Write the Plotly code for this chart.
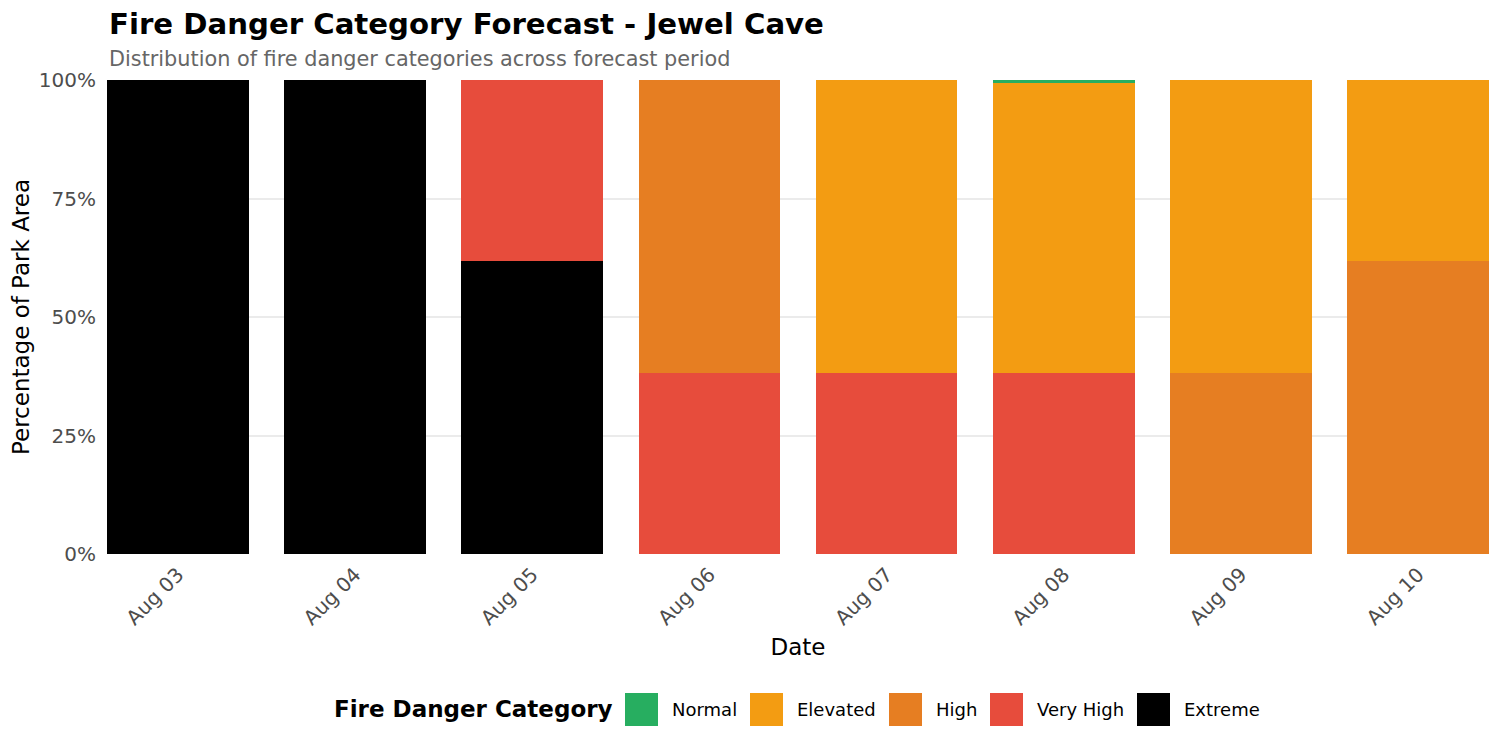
import plotly.graph_objects as go

# forecast dates and danger classes
dates = ["Aug 03", "Aug 04", "Aug 05", "Aug 06", "Aug 07", "Aug 08", "Aug 09", "Aug 10"]
categories = ["Normal", "Elevated", "High", "Very High", "Extreme"]

# percent of park area in each class, per day
normal = [0, 0, 0, 0, 0, 0.6, 0, 0]
elevated = [0, 0, 0, 0, 61.8, 61.2, 61.8, 38.2]
high = [0, 0, 0, 61.8, 0, 0, 38.2, 61.8]
very_high = [0, 0, 38.2, 38.2, 38.2, 38.2, 0, 0]
extreme = [100, 100, 61.8, 0, 0, 0, 0, 0]

y_ticks = [0, 25, 50, 75, 100]
y_labels = ["0%", "25%", "50%", "75%", "100%"]

colors = {
    "Normal": "#27AE60",
    "Elevated": "#F39C12",
    "High": "#E67E22",
    "Very High": "#E74C3C",
    "Extreme": "#000000",
}
values = {
    "Normal": normal,
    "Elevated": elevated,
    "High": high,
    "Very High": very_high,
    "Extreme": extreme,
}

FONT = "DejaVu Sans"
W, H = 1500, 750
OFF = 8  # page body margin shifts the figure
# plot panel edges as seen on the page
P_LEFT, P_RIGHT, P_TOP, P_BOTTOM = 107, 1489, 80, 554
L, R = P_LEFT - OFF, W - (P_RIGHT - OFF)
T, B = P_TOP - OFF, H - (P_BOTTOM - OFF)
pw, ph = P_RIGHT - P_LEFT, P_BOTTOM - P_TOP


def px(x):
    return (x - P_LEFT) / pw


def py(y):
    return (P_BOTTOM - y) / ph


fig = go.Figure()
# ggplot stacks the last level at the bottom
for cat in reversed(categories):
    fig.add_trace(go.Bar(
        x=dates, y=values[cat], name=cat,
        marker=dict(color=colors[cat], line=dict(width=0)),
        showlegend=False,
    ))

fig.update_layout(
    width=W, height=H,
    margin=dict(l=L, r=R, t=T, b=B, autoexpand=False),
    barmode="stack", bargap=0.2,
    plot_bgcolor="white", paper_bgcolor="white",
    font=dict(family=FONT, color="#000000"),
    xaxis=dict(
        type="category", range=[-0.4, 7.4], automargin=False,
        tickangle=-45, tickfont=dict(size=20, color="#4d4d4d"),
        showgrid=True, gridcolor="#ebebeb", zeroline=False, ticks="",
        ticklabelstandoff=4,
        title=dict(text="Date", font=dict(size=23), standoff=10),
    ),
    yaxis=dict(
        range=[0, 100], tickvals=y_ticks, ticktext=y_labels, automargin=False,
        tickfont=dict(size=20, color="#4d4d4d"),
        showgrid=True, gridcolor="#ebebeb", gridwidth=1.5, zeroline=False, ticks="",
        ticklabelstandoff=10,
        title=dict(text="Percentage of Park Area", font=dict(size=23), standoff=4),
    ),
)

ann = [
    dict(text="<b>Fire Danger Category Forecast - Jewel Cave</b>", x=0, y=py(24),
         xanchor="left", yanchor="middle", font=dict(size=29.2, color="#000000")),
    dict(text="Distribution of fire danger categories across forecast period", x=0, y=py(59),
         xanchor="left", yanchor="middle", font=dict(size=20.8, color="#666666")),
    dict(text="<b>Fire Danger Category</b>", x=px(615), y=py(709),
         xanchor="right", yanchor="middle", font=dict(size=23, color="#000000")),
]

# hand-drawn legend, ggplot style big keys
key_left = [625, 750, 889, 990, 1137]
shapes = []
for cat, kx in zip(categories, key_left):
    shapes.append(dict(type="rect", xref="paper", yref="paper",
                       x0=px(kx), x1=px(kx + 33), y0=py(726), y1=py(693),
                       fillcolor=colors[cat], line=dict(width=0)))
    ann.append(dict(text=cat, x=px(kx + 45), y=py(709), xanchor="left", yanchor="middle",
                    font=dict(size=18, color="#000000")))

for a in ann:
    a.update(xref="paper", yref="paper", showarrow=False)

fig.update_layout(annotations=ann, shapes=shapes)

fig.write_html("out.html")
